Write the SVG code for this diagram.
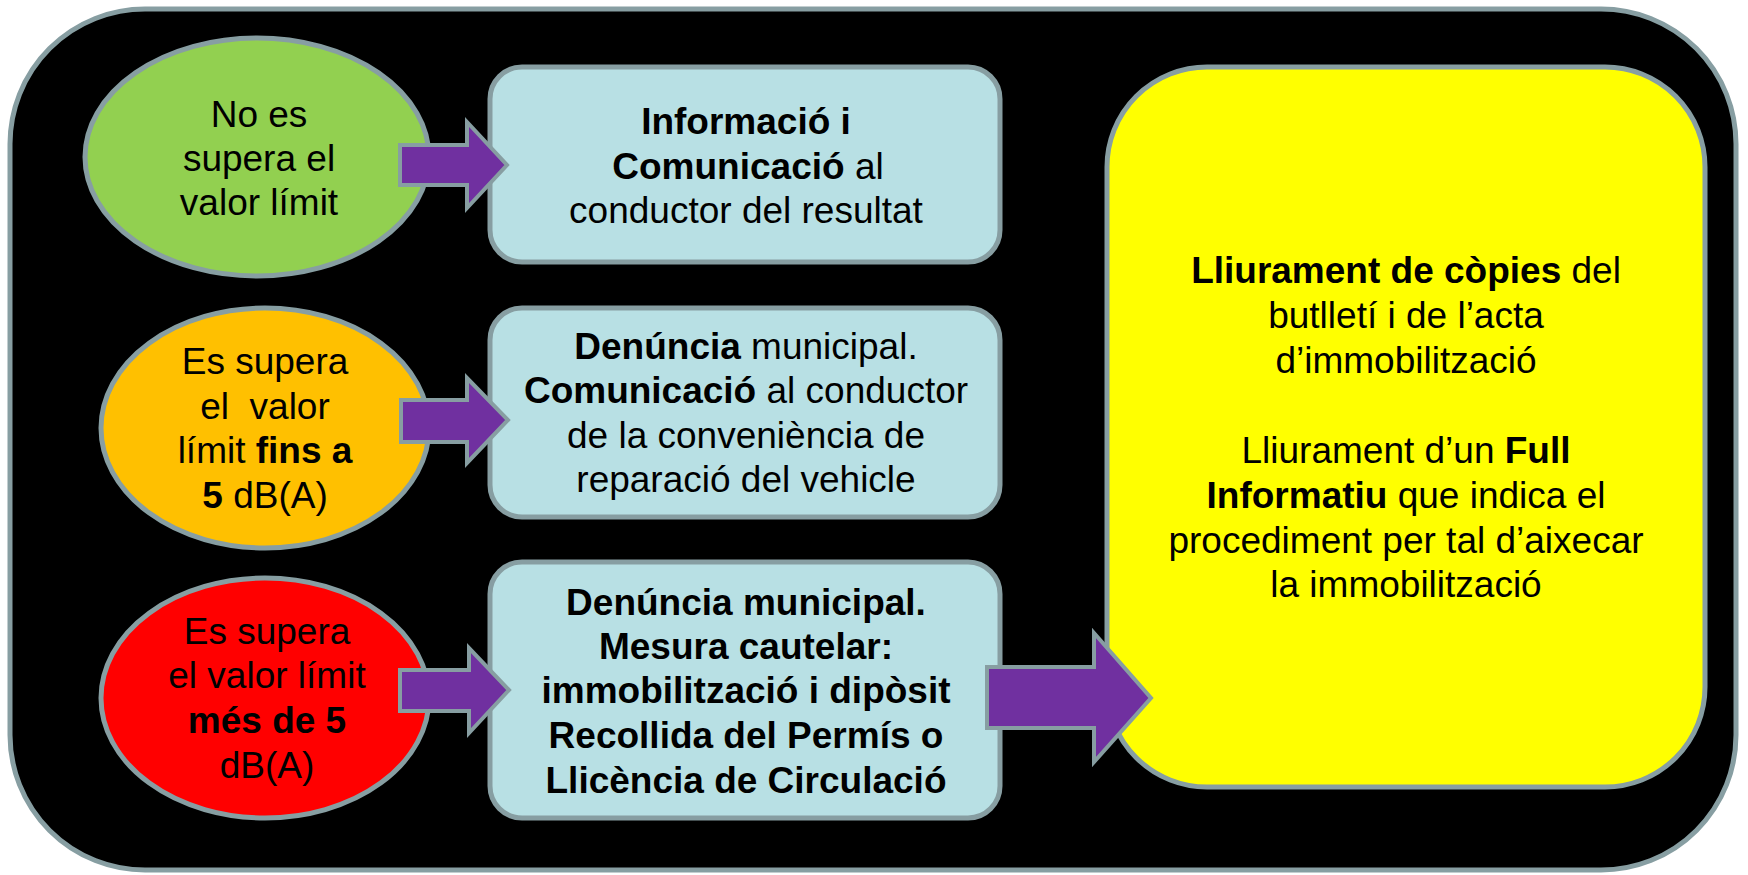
<svg xmlns="http://www.w3.org/2000/svg" width="1748" height="875" viewBox="0 0 1748 875">
<style>
.t{font-family:"Liberation Sans",Arial,sans-serif;font-size:37px;fill:#000;text-anchor:middle}
.b{font-weight:bold}
.sh{stroke:#879ea2;stroke-width:5}
.arr{fill:#7030a0;stroke:#879ea2;stroke-width:4;stroke-linejoin:miter}
.box{fill:#b8e0e4}
</style>
<rect x="0" y="0" width="1748" height="875" fill="#ffffff"/>
<g id="frame">
<rect x="10" y="9" width="1726" height="861" rx="135" ry="135" fill="#000000" class="sh"/>
</g>
<g id="node-green">
<ellipse cx="257" cy="157" rx="172" ry="119" fill="#92d050" class="sh"/>
<text class="t" x="259" y="127">No es</text>
<text class="t" x="259" y="171">supera el</text>
<text class="t" x="259" y="215">valor límit</text>
</g>
<g id="node-orange">
<ellipse cx="265" cy="428" rx="164" ry="120" fill="#ffc000" class="sh"/>
<text class="t" x="265" y="374">Es supera</text>
<text class="t" x="265" y="419" xml:space="preserve">el  valor</text>
<text class="t" x="265" y="463">límit <tspan class="b">fins a</tspan></text>
<text class="t" x="265" y="508"><tspan class="b">5</tspan> dB(A)</text>
</g>
<g id="node-red">
<ellipse cx="265" cy="698" rx="164" ry="120" fill="#ff0000" class="sh"/>
<text class="t" x="267" y="644">Es supera</text>
<text class="t" x="267" y="688">el valor límit</text>
<text class="t b" x="267" y="733">més de 5</text>
<text class="t" x="267" y="778">dB(A)</text>
</g>
<g id="box-1">
<rect x="490" y="67" width="510" height="195" rx="32" ry="32" class="box sh"/>
<text class="t b" x="746" y="134">Informació i</text>
<text class="t" x="748" y="179"><tspan class="b">Comunicació</tspan> al</text>
<text class="t" x="746" y="223">conductor del resultat</text>
</g>
<g id="box-2">
<rect x="490" y="308" width="510" height="209" rx="32" ry="32" class="box sh"/>
<text class="t" x="746" y="359"><tspan class="b">Denúncia</tspan> municipal.</text>
<text class="t" x="746" y="403"><tspan class="b">Comunicació</tspan> al conductor</text>
<text class="t" x="746" y="448">de la conveniència de</text>
<text class="t" x="746" y="492">reparació del vehicle</text>
</g>
<g id="box-3">
<rect x="490" y="562" width="510" height="256" rx="32" ry="32" class="box sh"/>
<text class="t b" x="746" y="615">Denúncia municipal.</text>
<text class="t b" x="746" y="659">Mesura cautelar:</text>
<text class="t b" x="746" y="703">immobilització i dipòsit</text>
<text class="t b" x="746" y="748">Recollida del Permís o</text>
<text class="t b" x="746" y="793">Llicència de Circulació</text>
</g>
<g id="box-yellow">
<rect x="1107" y="67" width="598" height="720" rx="100" ry="100" fill="#ffff00" class="sh"/>
<text class="t" x="1406" y="283"><tspan class="b">Lliurament de còpies</tspan> del</text>
<text class="t" x="1406" y="328">butlletí i de l’acta</text>
<text class="t" x="1406" y="373">d’immobilització</text>
<text class="t" x="1406" y="463">Lliurament d’un <tspan class="b">Full</tspan></text>
<text class="t" x="1406" y="508"><tspan class="b">Informatiu</tspan> que indica el</text>
<text class="t" x="1406" y="553">procediment per tal d’aixecar</text>
<text class="t" x="1406" y="597">la immobilització</text>
</g>
<g id="connectors">
<polygon class="arr" points="400,145 467,145 467,122 507,165 467,208 467,185 400,185"/>
<polygon class="arr" points="401,400 467,400 467,378 508,420 467,463 467,442 401,442"/>
<polygon class="arr" points="400,670 469,670 469,648 509,690 469,733 469,711 400,711"/>
<polygon class="arr" points="987,667 1094,667 1094,633 1151,698 1094,762 1094,728 987,728"/>
</g>
</svg>
